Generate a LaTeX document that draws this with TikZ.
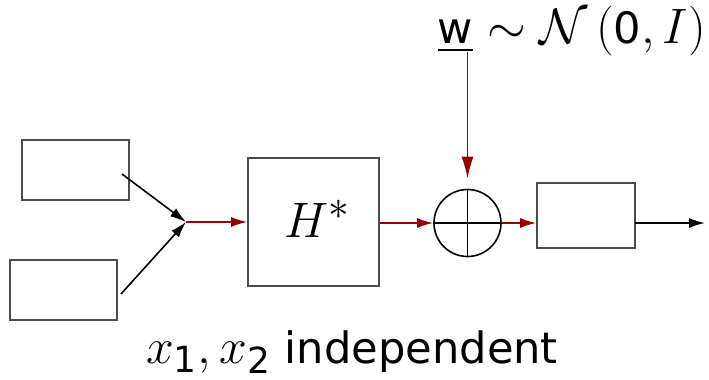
\documentclass[tikz,border=0pt]{standalone}
\usepackage{amsmath}
\usepackage{amssymb}
\usepackage{fontspec}
\setsansfont[Scale=0.868]{DejaVu Sans}
\usetikzlibrary{calc, positioning}
\usetikzlibrary{arrows.meta}

\colorlet{sigred}{red!60!black}
\tikzset{
  blk/.style={draw=black!70, thick, rectangle, inner sep=0pt},
  sumnode/.style={draw, thick, circle, minimum size=33.5pt, inner sep=0pt},
  sig/.style={thick, -{Latex[length=8pt,width=5pt]}},
  redsig/.style={sig, sigred},
}

\begin{document}
\begin{tikzpicture}[x=0.5pt,y=-0.5pt,font=\sffamily\fontsize{24.88}{30}\selectfont]
\useasboundingbox (0,0) rectangle (709,380);

% Sources, filter and receiver
\node[blk, minimum width=53.5pt, minimum height=30pt] (srcA) at (75.5,170) {};
\node[blk, minimum width=53.5pt, minimum height=30pt] (srcB) at (63.5,290) {};
\node[blk, minimum width=65.5pt, minimum height=64pt] (filt) at (313.5,222) {};
\node at (317,219) {$H^*$};
\node[sumnode] (sum) at (467.5,223) {};
\draw[thick] (sum.north) -- (sum.south);
\draw[thick] (sum.west) -- (sum.east);
\node[blk, minimum width=49pt, minimum height=32.5pt] (recv) at (586,215.5) {};

% Junction of the two sources
\coordinate (join) at (186,222);
\coordinate (srcAout) at (122,174);
\coordinate (srcBout) at (121,294);
\coordinate (recvout) at (635,223);
\coordinate (out) at (705,223);
\draw[sig] (srcAout) -- (join);
\draw[sig] (srcBout) -- (join);
\draw[redsig] (join) -- (filt.west |- join);
\draw[redsig] (filt.east |- sum) -- (sum.west);
\draw[redsig] (sum.east) -- (recv.west |- sum);
\draw[sig] (recvout) -- (out);

% Noise term
\node[inner sep=0pt] (noise) at (572,31) {$\underline{\textsf{w}}\sim\mathcal{N}\left(\textsf{0},I\right)$};
\coordinate (noisefoot) at (467.5,52);
\draw[redsig, -{Latex[length=11pt,width=6pt]}, shorten >=5pt] (noisefoot) -- (sum.north);

\node (indep) at (352,352) {$x_{\textsf{1}},x_{\textsf{2}}$ independent};
\end{tikzpicture}
\end{document}
